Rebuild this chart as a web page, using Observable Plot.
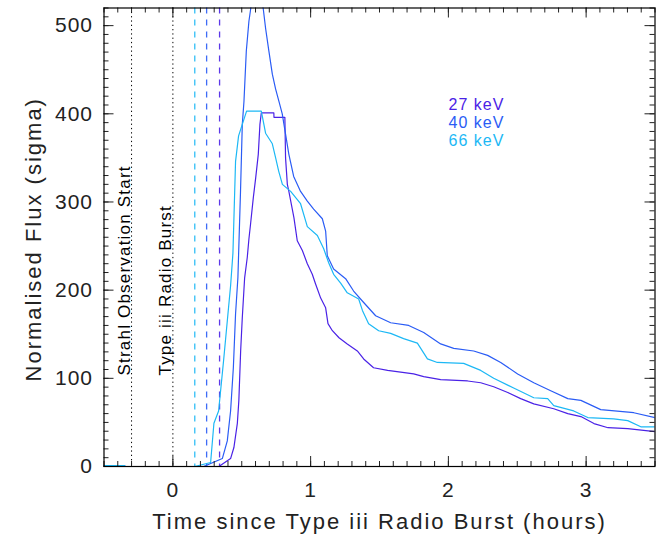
<!DOCTYPE html>
<html><head><meta charset="utf-8">
<script src="https://cdn.jsdelivr.net/npm/d3@7"></script>
<script src="https://cdn.jsdelivr.net/npm/@observablehq/plot@0.6"></script>
<style>
html,body{margin:0;padding:0;background:#fff;}
#chart{width:668px;height:535px;}
</style></head><body><div id="chart"></div>
<script>
const energies = ["27 keV", "40 keV", "66 keV"];
const colors = ["#4a22e6", "#2a5cf5", "#1cb8f5"];

// [hours since Type iii burst, normalised flux (sigma)]
const flux27 = [[-0.5,1],[-0.35,1],[-0.34,null],[0.334,0],[0.419,9],[0.443,21.5],[0.468,49],[0.479,75],[0.492,131],[0.504,169],[0.521,214],[0.540,237],[0.552,258],[0.564,275],[0.584,305],[0.601,327],[0.620,354],[0.632,388],[0.642,401],[0.733,401],[0.734,396],[0.813,396],[0.818,350],[0.831,320],[0.842,312],[0.879,282],[0.903,256],[0.940,245],[0.976,230],[1.012,218],[1.036,207],[1.073,191],[1.109,180],[1.126,162],[1.158,154],[1.206,146],[1.266,139],[1.339,131],[1.385,122],[1.457,112],[1.559,109],[1.748,105],[1.821,102],[1.944,98.5],[2.140,97],[2.235,95],[2.329,90.5],[2.431,84],[2.525,77],[2.620,71],[2.765,65.5],[2.867,60],[2.962,56.6],[3.057,48.7],[3.159,44],[3.302,43],[3.5,39.6]];
const flux40 = [[-0.5,1],[-0.35,1],[-0.34,null],[0.223,0],[0.359,9],[0.395,29],[0.419,63],[0.439,112],[0.455,173],[0.472,214],[0.491,312],[0.504,388],[0.516,414],[0.533,471],[0.552,505],[0.564,518],[0.585,545],[0.63,545],[0.657,518],[0.673,497],[0.697,471],[0.722,445],[0.746,428],[0.770,414],[0.794,400],[0.818,377],[0.842,354],[0.877,329],[0.927,312],[0.976,301],[1.022,292],[1.085,281],[1.109,267],[1.121,239],[1.167,224],[1.254,213],[1.312,199],[1.385,186],[1.472,171],[1.581,163],[1.712,160],[1.821,152],[1.944,139],[2.039,134],[2.184,131],[2.285,126],[2.380,118],[2.503,105],[2.620,95],[2.743,86],[2.867,77],[2.962,75],[3.106,64.5],[3.346,61],[3.5,55.5]];
const flux66 = [[-0.5,1],[-0.35,1],[-0.34,null],[0.158,0],[0.274,4.5],[0.298,49],[0.332,63],[0.368,120],[0.395,165],[0.419,205],[0.436,242],[0.455,346],[0.477,375],[0.504,388],[0.535,403],[0.642,403],[0.673,378],[0.722,366],[0.746,350],[0.768,335],[0.795,320],[0.855,312],[0.927,298],[0.976,272],[1.049,262],[1.095,247],[1.131,231],[1.167,218],[1.218,208],[1.266,197],[1.349,190],[1.376,177],[1.421,162],[1.494,154],[1.581,151],[1.675,145],[1.775,140],[1.848,122],[1.920,118],[2.111,117],[2.235,109],[2.329,100],[2.474,89],[2.620,78],[2.721,77],[2.765,69],[2.910,63],[3.012,55.5],[3.200,54],[3.302,52],[3.397,45],[3.5,45]];

const onsetTimes = [0.339, 0.245, 0.159]; // 27, 40, 66 keV
const eventTimes = [-0.30, 0];
const eventLabels = ["Strahl Observation Start", "Type iii Radio Burst"];
const xTicks = [0, 1, 2, 3];
const yTicks = [0, 100, 200, 300, 400, 500];
const xTitle = "Time since Type iii Radio Burst (hours)";
const yTitle = "Normalised Flux (sigma)";

const xDomain = [-0.5, 3.5], yDomain = [0, 520];
const rows = [];
[flux27, flux40, flux66].forEach((s, i) => s.forEach(([t, v]) => rows.push({t, v, energy: energies[i]})));
const onsets = onsetTimes.map((t, i) => ({t, energy: energies[i]}));
const events = eventTimes.map((t, i) => ({t, label: eventLabels[i]}));
const xMinor = d3.range(-5, 36).map(i => i / 10);
const yMinor = d3.range(0, 53).map(i => i * 10);

const W = 668, H = 535, mL = 103.5, mR = 13.5, mT = 7.5, mB = 69;
const iw = W - mL - mR, ih = H - mT - mB;
// tick lengths (px) converted to data units of each scale
const xPerPx = (xDomain[1] - xDomain[0]) / iw, yPerPx = (yDomain[1] - yDomain[0]) / ih;
const majorLen = 10, minorLen = 5, tickCol = "#222";
const txt = "#222";

function xTickRules(vals, len) {
  return [
    Plot.ruleX(vals, {x: d => d, y1: yDomain[0], y2: yDomain[0] + len * yPerPx, stroke: tickCol}),
    Plot.ruleX(vals, {x: d => d, y1: yDomain[1] - len * yPerPx, y2: yDomain[1], stroke: tickCol})
  ];
}
function yTickRules(vals, len) {
  return [
    Plot.ruleY(vals, {y: d => d, x1: xDomain[0], x2: xDomain[0] + len * xPerPx, stroke: tickCol}),
    Plot.ruleY(vals, {y: d => d, x1: xDomain[1] - len * xPerPx, x2: xDomain[1], stroke: tickCol})
  ];
}

const chart = Plot.plot({
  width: W, height: H,
  marginLeft: mL, marginRight: mR, marginTop: mT, marginBottom: mB,
  style: {fontFamily: "'Liberation Sans', Arial, sans-serif", background: "#fff"},
  x: {domain: xDomain, axis: null},
  y: {domain: yDomain, axis: null},
  color: {domain: energies, range: colors},
  marks: [
    Plot.ruleX(eventTimes, {stroke: "#000", strokeDasharray: "1.3,3"}),
    Plot.ruleX(onsets, {x: "t", stroke: "energy", strokeDasharray: "6,6", strokeWidth: 1.3, strokeOpacity: 0.9}),
    Plot.line(rows, {x: "t", y: "v", z: "energy", stroke: "energy", strokeWidth: 1.2, clip: true}),
    Plot.text(events, {x: "t", text: "label", rotate: -90, frameAnchor: "bottom", dy: -91, dx: -2,
      textAnchor: "start", lineAnchor: "bottom", fontSize: 17, fill: "#000"}),
    ...energies.map((e, i) => Plot.text([e], {frameAnchor: "top-left", dx: 344.5, dy: 97 + 18 * i,
      textAnchor: "start", lineAnchor: "middle", fontSize: 16, fill: colors[i]})),
    // inward major & minor ticks on all four sides
    ...xTickRules(xTicks, majorLen),
    ...xTickRules(xMinor, minorLen),
    ...yTickRules(yTicks, majorLen),
    ...yTickRules(yMinor, minorLen),
    Plot.axisX(xTicks, {anchor: "bottom", tickSize: 0, tickPadding: 16, label: null, fontSize: 21, fill: txt, tickFormat: d => String(d)}),
    Plot.axisY(yTicks, {anchor: "left", tickSize: 0, tickPadding: 11, label: null, fontSize: 21, fill: txt, tickFormat: d => String(d)}),
    Plot.text([xTitle], {frameAnchor: "bottom", dy: 55, textAnchor: "middle", lineAnchor: "middle", fontSize: 22, fill: txt}),
    Plot.text([yTitle], {frameAnchor: "left", rotate: -90, dx: -70, dy: 2, textAnchor: "middle", lineAnchor: "middle", fontSize: 22, fill: txt}),
    Plot.frame({stroke: "#000", strokeWidth: 1.2})
  ]
});
// widen the lettering a little, like the original vector font
const spacing = {"22": 2, "21": 1, "17": 1.2, "16": 1};
d3.select(chart).selectAll("g").each(function () {
  const fs = this.getAttribute("font-size");
  if (fs && spacing[fs] != null) this.setAttribute("letter-spacing", spacing[fs]);
});
document.getElementById("chart").appendChild(chart);
</script>
</body></html>
